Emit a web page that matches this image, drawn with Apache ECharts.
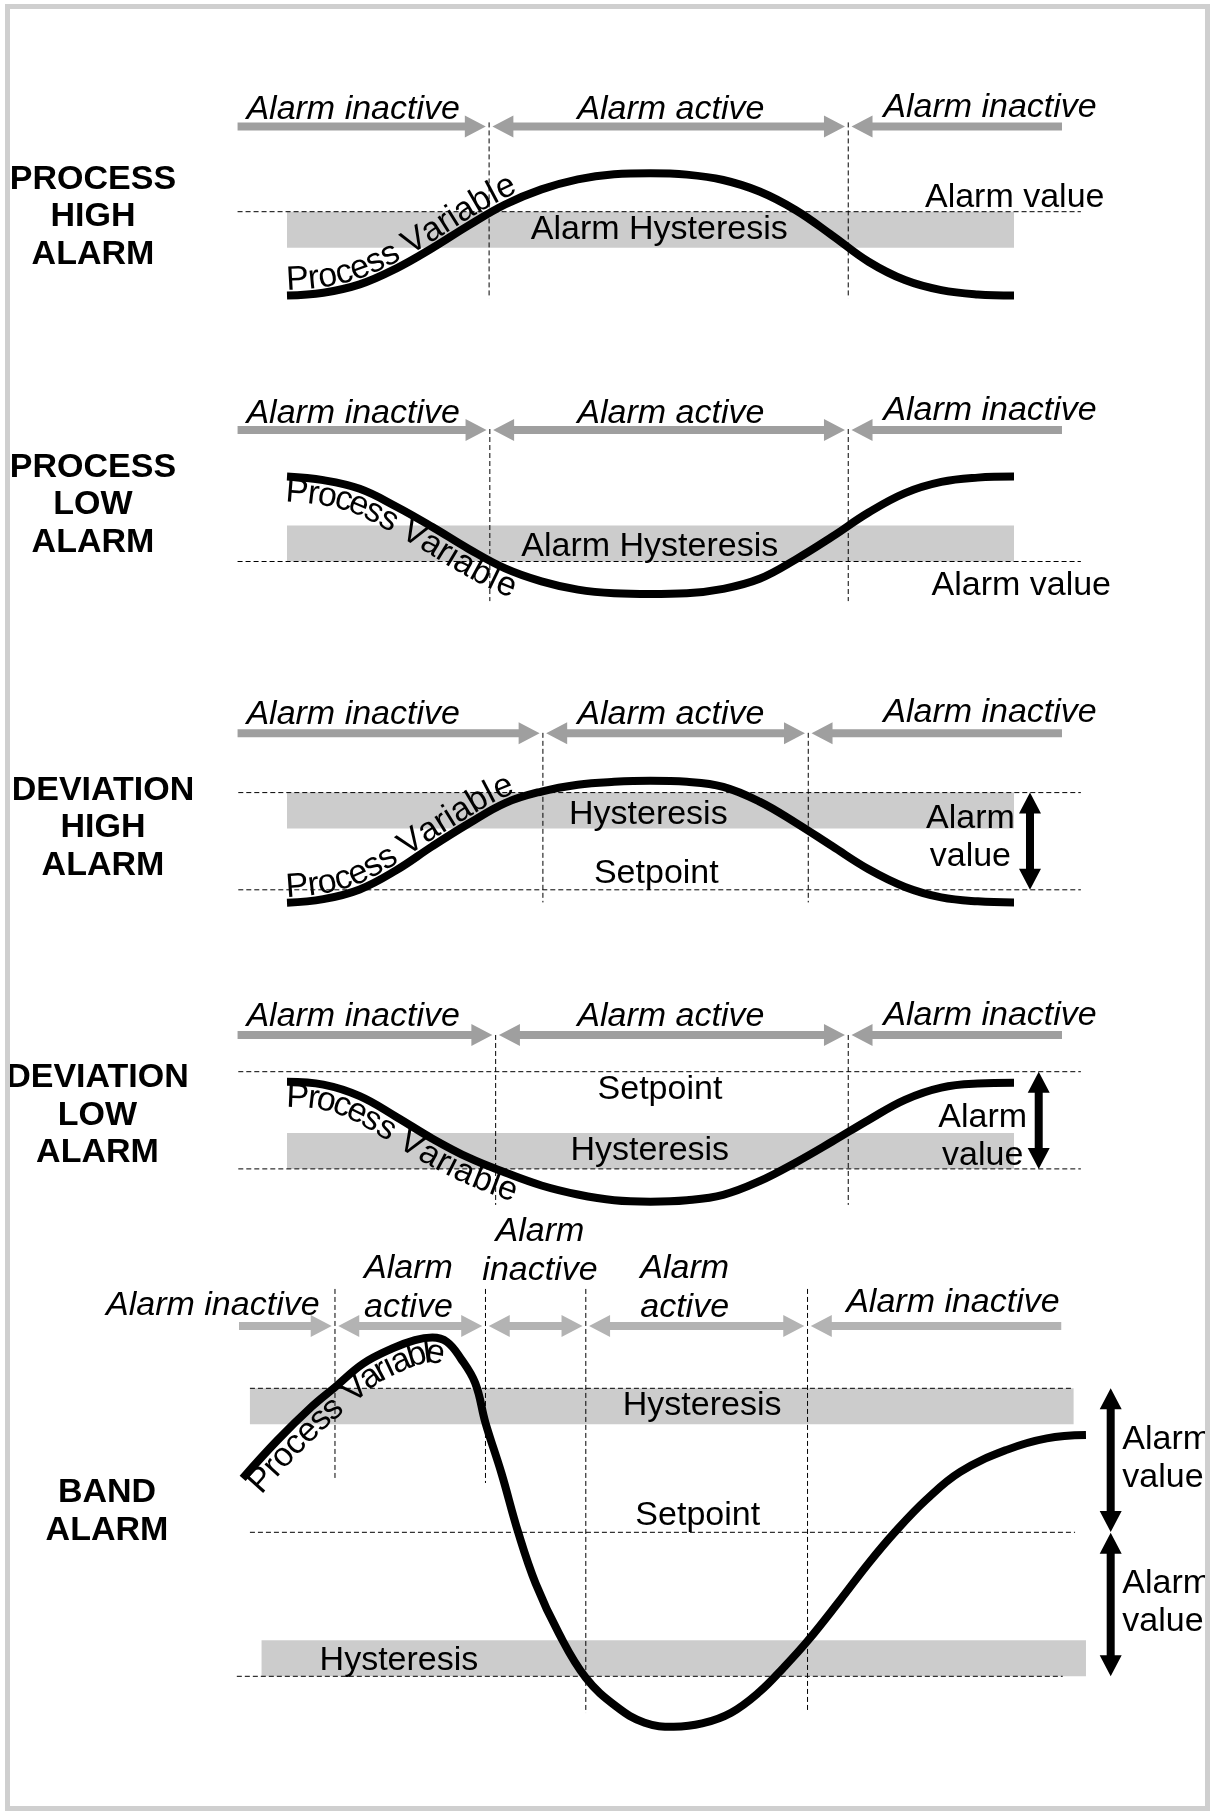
<!DOCTYPE html>
<html>
<head>
<meta charset="utf-8">
<title>Alarm types</title>
<script src="https://cdn.jsdelivr.net/npm/echarts@6/dist/echarts.min.js"></script>
<style>
  html, body { margin: 0; padding: 0; background: #ffffff; }
  #chart { width: 1211px; height: 1813px; }
</style>
</head>
<body>
<div id="chart"></div>
<script>
// ---- data: time in % of the period, process value in arbitrary units ----
var processHighPV = [[0,36.7],[5,37.5],[10,39.8],[15,44.2],[20,49.9],[25,56.2],[30,62],[35,66.2],[40,69],[45,70.4],[50,70.7],[55,70.3],[60,68.8],[65,65.6],[70,60.4],[75,53.4],[80,46.1],[85,41],[90,38.2],[95,37],[100,36.7]];
var processLowPV = [[0,63.6],[5,62.6],[10,60.2],[15,55.3],[20,49.6],[25,43.5],[30,38.1],[35,34.5],[40,32.2],[45,31.2],[50,31],[55,31.2],[60,32.4],[65,35.2],[70,40.6],[75,46.9],[80,53.6],[85,59],[90,62.1],[95,63.3],[100,63.6]];
var deviationHighPV = [[0,36.4],[5,37.4],[10,40.1],[15,45.4],[20,52.1],[25,58.4],[30,64.1],[35,67.3],[40,69.2],[45,70],[50,70.3],[55,70],[60,68.6],[65,64.5],[70,58.6],[75,52.1],[80,45.7],[85,40.8],[90,37.9],[95,36.8],[100,36.5]];
var deviationLowPV = [[0,57.2],[5,56.4],[10,53.2],[15,47.5],[20,41.4],[25,36.1],[30,32],[35,28.4],[40,25.9],[45,24.3],[50,23.9],[55,24.3],[60,25.8],[65,29.6],[70,34.8],[75,40.6],[80,46.6],[85,52.2],[90,55.6],[95,56.7],[100,56.9]];
var bandPV = [[-6.1,65],[-1.3,75.6],[3.4,84.9],[6.6,90.3],[10.5,96.9],[14.5,101.1],[17.6,103.4],[20,104.1],[22,102.9],[23.9,98.3],[25.9,91.4],[27.3,80.4],[29.5,66.4],[31.8,50],[34.2,35.8],[37.4,21.9],[41.1,9.6],[45.3,1.6],[49.2,-2.9],[53.2,-4],[57.1,-3.1],[61.1,-0.1],[65,5.7],[68.2,12.2],[71.6,19.8],[76.1,31.2],[80,41.4],[83.6,50],[87.9,59],[92.6,66.8],[99,72.9],[104.5,76.1],[109.9,77]];

var panelTitles = ['PROCESS\nHIGH\nALARM', 'PROCESS\nLOW\nALARM', 'DEVIATION\nHIGH\nALARM', 'DEVIATION\nLOW\nALARM', 'BAND\nALARM'];
var alarmValues = [60, 40, 67, 33];
var bandAlarmValues = [90, 10];
var setpoints = [null, null, 40, 60, 50];
var hysteresis = 10;
// moments where the alarm switches on / off
var switchTimes = [[27.8, 77.2], [27.9, 77.2], [35.2, 71.7], [28.7, 77.2], [6.6, 27.3, 41.1, 71.6]];
var stateLabels = [
  ['Alarm inactive', 'Alarm active', 'Alarm inactive'],
  ['Alarm inactive', 'Alarm active', 'Alarm inactive'],
  ['Alarm inactive', 'Alarm active', 'Alarm inactive'],
  ['Alarm inactive', 'Alarm active', 'Alarm inactive'],
  ['Alarm inactive', 'Alarm\nactive', 'Alarm\ninactive', 'Alarm\nactive', 'Alarm inactive']
];

// ---- layout ----
var FONT = '"Liberation Sans", Arial, Helvetica, sans-serif';
var T_ZERO_PX = 287, PX_PER_T = 7.27, T_MIN = -39, T_MAX = 127, PX_PER_V = 3.6;
var SHAFT = 4, HEAD_W = 11, HEAD_L = 21, GAP = 0.45;

var panels = [
  { pv: processHighPV, zeroY: 427.7, vMin: 0, vMax: 100, title: [93, 217], grey: '#9f9f9f',
    arrowV: 83.7, arrowEnds: [-6.8, 106.6], labelT: [9.1, 52.8, 96.7], labelV: [88.4, 88.4, 88.8],
    vlines: [[84.8, 35.9], [84.8, 35.9]],
    bands: [[0, 100, alarmValues[0] - hysteresis, alarmValues[0]]],
    dashed: [[alarmValues[0], -6.8, 109.2]],
    notes: [['Alarm Hysteresis', 51.2, 55.1, 'center'], ['Alarm value', 100.1, 64, 'center']],
    vArrows: [], pvOffset: 15 },
  { pv: processLowPV, zeroY: 705.5, vMin: 0, vMax: 100, title: [93, 505], grey: '#9f9f9f',
    arrowV: 76.5, arrowEnds: [-6.8, 106.6], labelT: [9.1, 52.8, 96.7], labelV: [81.2, 81.2, 81.8],
    vlines: [[76.8, 29], [76.8, 29]],
    bands: [[0, 100, alarmValues[1], alarmValues[1] + hysteresis]],
    dashed: [[alarmValues[1], -6.8, 109.2]],
    notes: [['Alarm Hysteresis', 49.9, 44.2, 'center'], ['Alarm value', 101, 33.4, 'center']],
    vArrows: [], pvOffset: -15.5 },
  { pv: deviationHighPV, zeroY: 1033.8, vMin: 0, vMax: 100, title: [103, 828], grey: '#9f9f9f',
    arrowV: 83.5, arrowEnds: [-6.8, 106.6], labelT: [9.1, 52.8, 96.7], labelV: [88.6, 88.6, 89.2],
    vlines: [[83.6, 36.5], [83.6, 36.5]],
    bands: [[0, 100, alarmValues[2] - hysteresis, alarmValues[2]]],
    dashed: [[alarmValues[2], -6.7, 109.2], [setpoints[2], -6.7, 109.2]],
    notes: [['Hysteresis', 49.7, 61, 'center'], ['Setpoint', 50.8, 44.5, 'center'], ['Alarm\nvalue', 94, 54.5, 'center']],
    vArrows: [[102.2, alarmValues[2], setpoints[2]]], pvOffset: 15 },
  { pv: deviationLowPV, zeroY: 1287.7, vMin: 0, vMax: 100, title: [97.5, 1115.5], grey: '#9f9f9f',
    arrowV: 70.2, arrowEnds: [-6.8, 106.6], labelT: [9.1, 52.8, 96.7], labelV: [75.4, 75.4, 75.7],
    vlines: [[70.2, 23], [70.2, 23]],
    bands: [[0, 100, alarmValues[3], alarmValues[3] + hysteresis]],
    dashed: [[setpoints[3], -6.7, 109.2], [alarmValues[3], -6.7, 109.2]],
    notes: [['Setpoint', 51.3, 55.1, 'center'], ['Hysteresis', 49.9, 38.2, 'center'], ['Alarm\nvalue', 95.7, 42, 'center']],
    vArrows: [[103.4, setpoints[3], alarmValues[3]]], pvOffset: -15.5 },
  { pv: bandPV, zeroY: 1712.3, vMin: -20, vMax: 140, title: [107, 1511.5], grey: '#b3b3b3',
    arrowV: 107.3, arrowEnds: [-6.6, 106.5], labelT: [-10.2, 16.7, 34.8, 54.7, 91.6], labelV: [113.1, 117.9, 128.1, 117.9, 113.7],
    vlines: [[117.6, 64.5], [117.6, 63.7], [117.6, -0.2], [117.6, 0.6]],
    bands: [[-5.1, 108.2, bandAlarmValues[0] - hysteresis, bandAlarmValues[0]], [-3.5, 109.9, bandAlarmValues[1], bandAlarmValues[1] + hysteresis]],
    dashed: [[bandAlarmValues[0], -5.1, 108.2], [setpoints[4], -5.1, 108.4], [bandAlarmValues[1], -6.9, 106.7]],
    notes: [['Hysteresis', 57.1, 85.3, 'center'], ['Setpoint', 56.5, 54.5, 'center'], ['Hysteresis', 15.4, 14.3, 'center'],
            ['Alarm\nvalue', 114.9, 70.6, 'left'], ['Alarm\nvalue', 114.9, 30.6, 'left']],
    vArrows: [[113.3, bandAlarmValues[0], setpoints[4] + 0.1], [113.3, setpoints[4] - 0.1, bandAlarmValues[1]]], pvOffset: -15.5 }
];

var measureCtx = document.createElement('canvas').getContext('2d');
measureCtx.font = '34px ' + FONT;

function arrowShape(p0, p1, head0, head1, color) {
  var dx = p1[0] - p0[0], dy = p1[1] - p0[1], len = Math.sqrt(dx * dx + dy * dy);
  var ux = dx / len, uy = dy / len, nx = -uy, ny = ux;
  function at(a, b) { return [p0[0] + ux * a + nx * b, p0[1] + uy * a + ny * b]; }
  var pts = [];
  if (head0) pts.push(at(0, 0), at(HEAD_L, -HEAD_W), at(HEAD_L, -SHAFT)); else pts.push(at(0, -SHAFT));
  if (head1) pts.push(at(len - HEAD_L, -SHAFT), at(len - HEAD_L, -HEAD_W), at(len, 0), at(len - HEAD_L, HEAD_W), at(len - HEAD_L, SHAFT));
  else pts.push(at(len, -SHAFT), at(len, SHAFT));
  if (head0) pts.push(at(HEAD_L, SHAFT), at(HEAD_L, HEAD_W)); else pts.push(at(0, SHAFT));
  return { type: 'polygon', shape: { points: pts }, style: { fill: color } };
}

function dashLine(a, b) {
  return { type: 'line', shape: { x1: a[0], y1: a[1], x2: b[0], y2: b[1] },
    style: { stroke: '#000', lineWidth: 1, lineDash: [5, 3] } };
}

// back layer: bands, dashed lines, state arrows
function makeBack(p, idx) {
  return function (params, api) {
    var kids = [];
    p.bands.forEach(function (b) {
      var a = api.coord([b[0], b[3]]), c = api.coord([b[1], b[2]]);
      kids.push({ type: 'rect', shape: { x: a[0], y: a[1], width: c[0] - a[0], height: c[1] - a[1] }, style: { fill: '#cccccc' } });
    });
    p.dashed.forEach(function (d) {
      kids.push(dashLine(api.coord([d[1], d[0]]), api.coord([d[2], d[0]])));
    });
    var sw = switchTimes[idx];
    sw.forEach(function (t, k) {
      kids.push(dashLine(api.coord([t, p.vlines[k][0]]), api.coord([t, p.vlines[k][1]])));
    });
    // arrows between switch moments
    var stops = [p.arrowEnds[0]].concat(sw).concat([p.arrowEnds[1]]);
    for (var k = 0; k < stops.length - 1; k++) {
      var first = k === 0, last = k === stops.length - 2;
      var t0 = first ? stops[k] : stops[k] + GAP;
      var t1 = last ? stops[k + 1] : stops[k + 1] - GAP;
      kids.push(arrowShape(api.coord([t0, p.arrowV]), api.coord([t1, p.arrowV]), !first, !last, p.grey));
    }
    p.vArrows.forEach(function (va) {
      kids.push(arrowShape(api.coord([va[0], va[1]]), api.coord([va[0], va[2]]), true, true, '#000'));
    });
    return { type: 'group', children: kids };
  };
}

function densify(pts, n) {
  var out = [];
  for (var i = 0; i < pts.length - 1; i++) {
    var p0 = pts[Math.max(i - 1, 0)], p1 = pts[i], p2 = pts[i + 1], p3 = pts[Math.min(i + 2, pts.length - 1)];
    for (var k = 0; k < n; k++) {
      var s = k / n, s2 = s * s, s3 = s2 * s;
      out.push([0, 1].map(function (j) {
        return 0.5 * (2 * p1[j] + (-p0[j] + p2[j]) * s + (2 * p0[j] - 5 * p1[j] + 4 * p2[j] - p3[j]) * s2 +
          (-p0[j] + 3 * p1[j] - 3 * p2[j] + p3[j]) * s3);
      }));
    }
  }
  out.push(pts[pts.length - 1]);
  return out;
}

function textOnCurve(api, data, text, offset) {
  var dense = densify(data.map(function (d) { return api.coord(d); }), 20);
  var cum = [0];
  for (var i = 1; i < dense.length; i++) {
    cum.push(cum[i - 1] + Math.hypot(dense[i][0] - dense[i - 1][0], dense[i][1] - dense[i - 1][1]));
  }
  function at(s) {
    s = Math.max(0, Math.min(s, cum[cum.length - 1]));
    var i = 1;
    while (i < cum.length - 1 && cum[i] < s) i++;
    var f = (s - cum[i - 1]) / ((cum[i] - cum[i - 1]) || 1);
    return [dense[i - 1][0] + (dense[i][0] - dense[i - 1][0]) * f, dense[i - 1][1] + (dense[i][1] - dense[i - 1][1]) * f];
  }
  var kids = [], s = 0;
  text.split('').forEach(function (ch) {
    var w = measureCtx.measureText(ch).width, sc = s + w / 2;
    var a = at(sc - 3), b = at(sc + 3), p = at(sc);
    var dx = b[0] - a[0], dy = b[1] - a[1], len = Math.hypot(dx, dy) || 1;
    dx /= len; dy /= len;
    if (ch !== ' ') {
      kids.push({ type: 'text', x: p[0] + dy * offset, y: p[1] - dx * offset, rotation: -Math.atan2(dy, dx),
        style: { text: ch, fill: '#000', fontSize: 34, fontFamily: FONT, align: 'center', verticalAlign: 'middle' } });
    }
    s += w;
  });
  return kids;
}

// front layer: texts
function makeFront(p, idx) {
  return function (params, api) {
    var kids = [];
    stateLabels[idx].forEach(function (txt, k) {
      var c = api.coord([p.labelT[k], p.labelV[k]]);
      kids.push({ type: 'text', x: c[0], y: c[1], style: { text: txt, fill: '#000', fontSize: 34, fontStyle: 'italic',
        fontFamily: FONT, align: 'center', verticalAlign: 'middle', lineHeight: 38.5 } });
    });
    p.notes.forEach(function (n) {
      var c = api.coord([n[1], n[2]]);
      kids.push({ type: 'text', x: c[0], y: c[1], style: { text: n[0], fill: '#000', fontSize: 34,
        fontFamily: FONT, align: n[3], verticalAlign: 'middle', lineHeight: 38 } });
    });
    kids = kids.concat(textOnCurve(api, p.pv, 'Process Variable', p.pvOffset));
    return { type: 'group', children: kids };
  };
}

var grids = [], xAxes = [], yAxes = [], series = [], graphics = [];
panels.forEach(function (p, i) {
  grids.push({ left: T_ZERO_PX + T_MIN * PX_PER_T, width: (T_MAX - T_MIN) * PX_PER_T,
    top: p.zeroY - p.vMax * PX_PER_V, height: (p.vMax - p.vMin) * PX_PER_V });
  xAxes.push({ type: 'value', gridIndex: i, min: T_MIN, max: T_MAX, show: false });
  yAxes.push({ type: 'value', gridIndex: i, min: p.vMin, max: p.vMax, show: false });
  series.push({ type: 'custom', xAxisIndex: i, yAxisIndex: i, z: 1, silent: true, clip: false,
    data: [[0, 0]], renderItem: makeBack(p, i) });
  series.push({ type: 'line', name: 'Process Variable', xAxisIndex: i, yAxisIndex: i, z: 2, silent: true,
    data: p.pv, symbol: 'none', smooth: 0.4, clip: false, lineStyle: { color: '#000', width: 8 } });
  series.push({ type: 'custom', xAxisIndex: i, yAxisIndex: i, z: 3, silent: true, clip: false,
    data: [[0, 0]], renderItem: makeFront(p, i) });
  graphics.push({ type: 'text', x: p.title[0], y: p.title[1], z: 10,
    style: { text: panelTitles[i], fill: '#000', fontSize: 34, fontWeight: 'bold', fontFamily: FONT,
      align: 'center', verticalAlign: 'middle', lineHeight: 37.5 } });
});
// outer frame
graphics.push({ type: 'rect', z: 100, shape: { x: 7.5, y: 6.5, width: 1200, height: 1802 },
  style: { fill: null, stroke: '#cfcfcf', lineWidth: 5 } });

var myChart = echarts.init(document.getElementById('chart'));
var option = {
  animation: false,
  backgroundColor: '#ffffff',
  grid: grids,
  xAxis: xAxes,
  yAxis: yAxes,
  series: series,
  graphic: graphics
};
myChart.setOption(option);
</script>
</body>
</html>
